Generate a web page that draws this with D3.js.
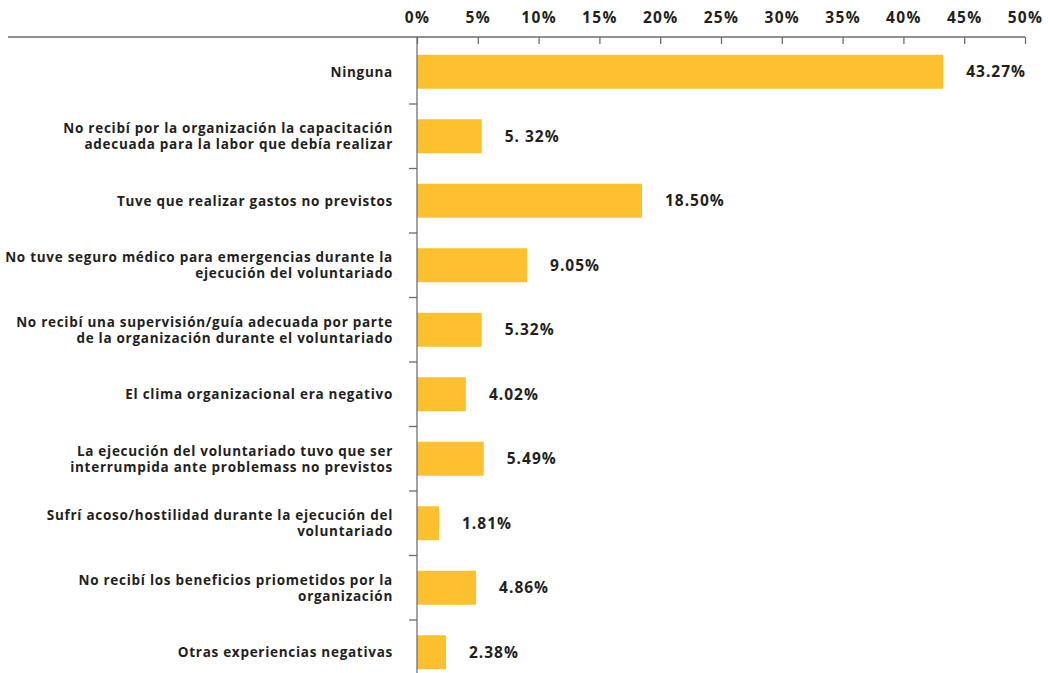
<!DOCTYPE html>
<html>
<head>
<meta charset="utf-8">
<script src="https://cdn.jsdelivr.net/npm/d3@7"></script>
<style>
  body { margin: 0; background: #fff; }
  text { font-family: "Open Sans", sans-serif; font-weight: 700; fill: #231f20; }
</style>
</head>
<body>
<script>
var svgW = 1048;
var svgH = 673;

var categories = [
  "Ninguna",
  "No recibí por la organización la capacitación\nadecuada para la labor que debía realizar",
  "Tuve que realizar gastos no previstos",
  "No tuve seguro médico para emergencias durante la\nejecución del voluntariado",
  "No recibí una supervisión/guía adecuada por parte\nde la organización durante el voluntariado",
  "El clima organizacional era negativo",
  "La ejecución del voluntariado tuvo que ser\ninterrumpida ante problemass no previstos",
  "Sufrí acoso/hostilidad durante la ejecución del\nvoluntariado",
  "No recibí los beneficios priometidos por la\norganización",
  "Otras experiencias negativas"
];
var values = [43.27, 5.32, 18.50, 9.05, 5.32, 4.02, 5.49, 1.81, 4.86, 2.38];
var valueLabels = ["43.27%", "5. 32%", "18.50%", "9.05%", "5.32%", "4.02%", "5.49%", "1.81%", "4.86%", "2.38%"];
var xTicks = [0, 5, 10, 15, 20, 25, 30, 35, 40, 45, 50];

var barColor = "#fdc12f";
var axisColor = "#6d6d6d";

var x = d3.scaleLinear().domain([0, 50]).range([417, 1025]);
var y = d3.scaleBand()
  .domain(categories)
  .range([39.5, 684.5])
  .paddingInner(0.47)
  .paddingOuter(0.235);

var svg = d3.select("body")
  .append("svg")
  .attr("width", svgW)
  .attr("height", svgH);

// barras
svg.selectAll("rect.bar")
  .data(values)
  .enter()
  .append("rect")
  .attr("class", "bar")
  .attr("x", x(0))
  .attr("y", function(d, i) { return y(categories[i]) + y.bandwidth() / 2 - 17; })
  .attr("width", function(d) { return x(d) - x(0); })
  .attr("height", 34)
  .attr("fill", barColor);

// eje superior
var xAxis = d3.axisTop(x)
  .tickValues(xTicks)
  .tickFormat(function(d) { return d + "%"; })
  .tickSize(-7)
  .tickPadding(14);

var gx = svg.append("g")
  .attr("transform", "translate(0,37)")
  .call(xAxis);
gx.select(".domain").remove();
gx.selectAll(".tick line").attr("stroke", axisColor).attr("stroke-width", 1.3);
gx.selectAll(".tick text")
  .attr("font-size", "15.5px")
  .attr("font-family", "Open Sans, sans-serif")
  .attr("font-weight", 700)
  .attr("letter-spacing", "1.3px")
  .attr("fill", "#231f20");

svg.append("line")
  .attr("x1", 8).attr("x2", x(50))
  .attr("y1", 37).attr("y2", 37)
  .attr("stroke", axisColor)
  .attr("stroke-width", 1.3);

// eje vertical
svg.append("line")
  .attr("x1", x(0)).attr("x2", x(0))
  .attr("y1", 37).attr("y2", svgH)
  .attr("stroke", axisColor)
  .attr("stroke-opacity", 0.85)
  .attr("stroke-width", 1.5);

svg.selectAll("line.ytick")
  .data(categories.slice(1))
  .enter()
  .append("line")
  .attr("class", "ytick")
  .attr("x1", x(0) - 8).attr("x2", x(0))
  .attr("y1", function(d) { return y(d) - y.step() * y.paddingInner() / 2; })
  .attr("y2", function(d) { return y(d) - y.step() * y.paddingInner() / 2; })
  .attr("stroke", axisColor)
  .attr("stroke-width", 1.3);

// etiquetas de categorias
var labels = svg.selectAll("text.cat")
  .data(categories)
  .enter()
  .append("text")
  .attr("class", "cat")
  .attr("text-anchor", "end")
  .attr("font-size", "13.5px")
  .attr("letter-spacing", "0.72px")
  .attr("y", function(d) { return y(d) + y.bandwidth() / 2; });

labels.each(function(d) {
  var lines = d.split("\n");
  var t = d3.select(this);
  lines.forEach(function(line, j) {
    t.append("tspan")
      .attr("x", 393)
      .attr("dy", j === 0 ? ((-(lines.length - 1) * 16) / 2 + 5) + "px" : "16px")
      .text(line);
  });
});

// valores
svg.selectAll("text.val")
  .data(values)
  .enter()
  .append("text")
  .attr("class", "val")
  .attr("x", function(d) { return x(d) + 23; })
  .attr("y", function(d, i) { return y(categories[i]) + y.bandwidth() / 2 + 5.5; })
  .attr("font-size", "15.5px")
  .attr("letter-spacing", "1px")
  .text(function(d, i) { return valueLabels[i]; });
</script>
</body>
</html>
